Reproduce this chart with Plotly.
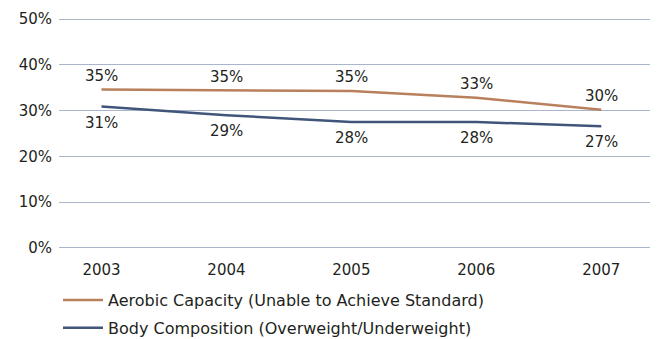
import plotly.graph_objects as go

years = ["2003", "2004", "2005", "2006", "2007"]
aerobic = [34.6, 34.4, 34.3, 32.8, 30.2]
body = [30.9, 29.0, 27.5, 27.5, 26.6]
aerobic_labels = ["35%", "35%", "35%", "33%", "30%"]
body_labels = ["31%", "29%", "28%", "28%", "27%"]
yticks = [0, 10, 20, 30, 40, 50]
ytick_text = ["0%", "10%", "20%", "30%", "40%", "50%"]

FONT = "DejaVu Sans"
FS = 15
TXT = "#231f20"
C_AER = "#B8805C"
C_BODY = "#41557A"
GRID = "#A9B5CB"

x = list(range(len(years)))

fig = go.Figure()
fig.add_trace(go.Scatter(
    x=x, y=aerobic, mode="lines", name="Aerobic Capacity (Unable to Achieve Standard)",
    line=dict(color=C_AER, width=2.5), legendgroup="a", hoverinfo="skip"))
fig.add_trace(go.Scatter(
    x=x, y=body, mode="lines", name="Body Composition (Overweight/Underweight)",
    line=dict(color=C_BODY, width=2.5), legendgroup="b", hoverinfo="skip"))

annotations = []
for xi, yv, lab in zip(x, aerobic, aerobic_labels):
    annotations.append(dict(x=xi, y=yv, text=lab, showarrow=False, yshift=14,
                            font=dict(family=FONT, size=FS, color=TXT)))
for xi, yv, lab in zip(x, body, body_labels):
    annotations.append(dict(x=xi, y=yv, text=lab, showarrow=False, yshift=-16,
                            font=dict(family=FONT, size=FS, color=TXT)))

fig.update_layout(
    width=657, height=339,
    margin=dict(l=59, r=7, t=18, b=90, autoexpand=False),
    paper_bgcolor="white", plot_bgcolor="white",
    font=dict(family=FONT, size=FS, color=TXT),
    annotations=annotations,
    xaxis=dict(range=[-0.34, 4.39], tickvals=x, ticktext=years, showgrid=False,
               zeroline=False, showline=False, ticks="", ticklabelstandoff=10,
               automargin=False),
    yaxis=dict(range=[-0.25, 50.25], tickvals=yticks, ticktext=ytick_text, showgrid=True,
               gridcolor=GRID, gridwidth=1, zeroline=False, showline=False, ticks="",
               ticklabelstandoff=6, automargin=False),
    showlegend=True,
    legend=dict(orientation="v", xref="container", x=58 / 657, xanchor="left",
                yref="container", y=0.165, yanchor="top", itemwidth=40,
                traceorder="grouped", tracegroupgap=4,
                font=dict(family=FONT, size=16, color=TXT),
                bgcolor="rgba(0,0,0,0)"),
)
fig.write_html("out.html", config={"displayModeBar": False},
               post_script="document.body.style.margin='0';")
